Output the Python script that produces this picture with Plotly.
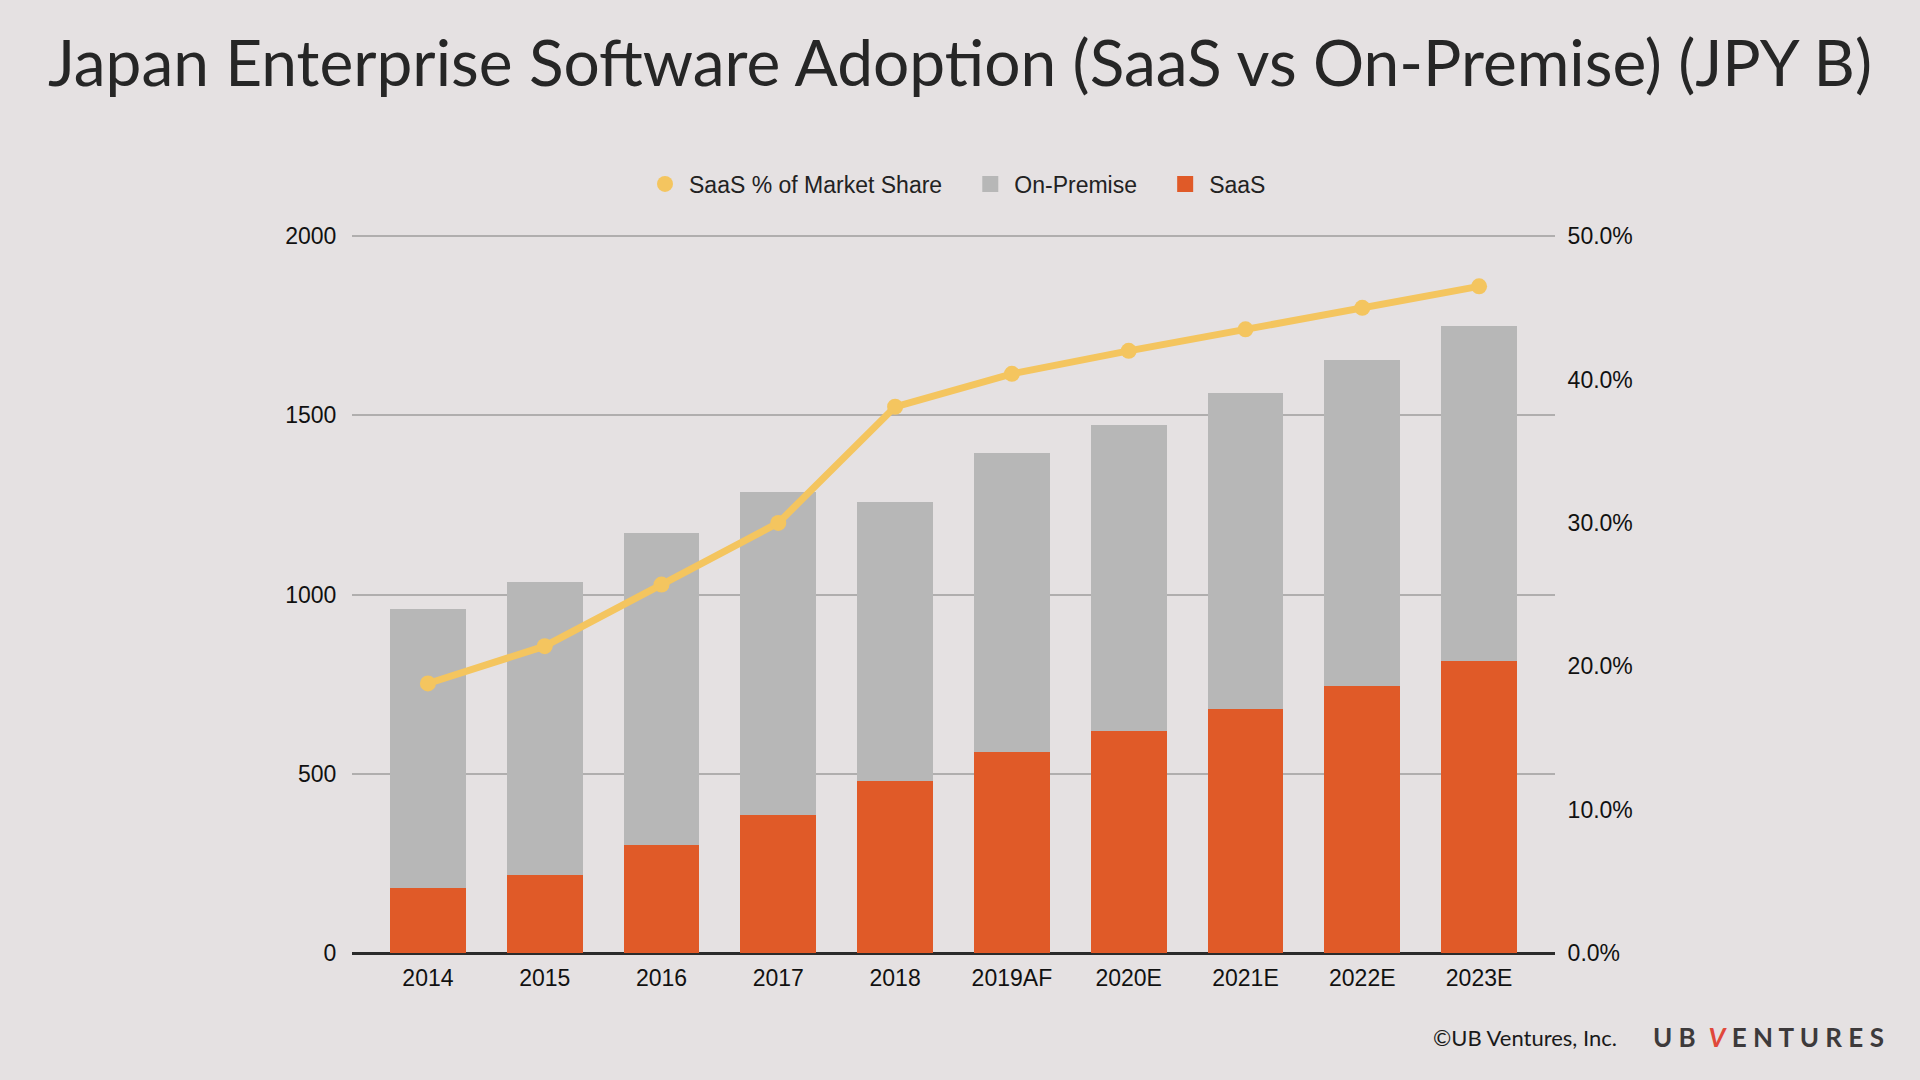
import plotly.graph_objects as go

categories = ["2014", "2015", "2016", "2017", "2018", "2019AF", "2020E", "2021E", "2022E", "2023E"]
saas = [181, 219, 301, 386, 479, 561, 619, 680, 745, 814]
on_premise = [779, 817, 872, 899, 779, 834, 855, 882, 910, 936]
saas_share = [18.8, 21.4, 25.7, 30.0, 38.1, 40.4, 42.0, 43.5, 45.0, 46.5]
left_ticks = [0, 500, 1000, 1500, 2000]
right_ticks = [0, 10, 20, 30, 40, 50]

BG = "#E5E1E2"
ORANGE = "#E05A28"
GRAY = "#B7B7B7"
YELLOW = "#F4C55F"
NB = "\u00a0"

fig = go.Figure()

fig.add_trace(go.Bar(x=categories, y=saas, name="SaaS", marker=dict(color=ORANGE, line_width=0),
                     showlegend=False, yaxis="y"))
fig.add_trace(go.Bar(x=categories, y=on_premise, name="On-Premise", marker=dict(color=GRAY, line_width=0),
                     showlegend=False, yaxis="y"))
fig.add_trace(go.Scatter(x=categories, y=saas_share, name="SaaS % of Market Share", mode="lines+markers",
                         line=dict(color=YELLOW, width=7), marker=dict(color=YELLOW, size=16),
                         showlegend=False, yaxis="y2"))

# legend entries (symbol-only, as in the reference)
fig.add_trace(go.Scatter(x=[None], y=[None], mode="markers", name="SaaS % of Market Share" + NB * 3,
                         marker=dict(color=YELLOW, size=22, symbol="circle")))
fig.add_trace(go.Scatter(x=[None], y=[None], mode="markers", name="On-Premise" + NB * 3,
                         marker=dict(color=GRAY, size=22, symbol="square")))
fig.add_trace(go.Scatter(x=[None], y=[None], mode="markers", name="SaaS",
                         marker=dict(color=ORANGE, size=22, symbol="square")))

tickfont = dict(family="Liberation Sans, Arial, sans-serif", size=23, color="#111111")

TOP = 2006
fig.update_layout(
    width=1920, height=1080,
    paper_bgcolor=BG, plot_bgcolor=BG,
    margin=dict(l=352, r=365, t=234, b=127, autoexpand=False),
    barmode="stack", bargap=0.35,
    title=dict(text="Japan Enterprise Software Adoption (SaaS vs On-Premise) (JPY B)",
               font=dict(family="Lato", size=64, color="#262626"),
               x=0.5, xanchor="center", xref="container",
               y=1 - 64 / 1080, yanchor="middle", yref="container"),
    legend=dict(orientation="h", x=0.5 - 4 / 1920, xanchor="center", xref="container",
                y=1 - 184 / 1080, yanchor="middle", yref="container",
                font=dict(family="Liberation Sans, Arial, sans-serif", size=23, color="#222"),
                bgcolor="rgba(0,0,0,0)", itemsizing="trace", itemwidth=38, traceorder="normal"),
    xaxis=dict(type="category", range=[-0.65, 9.65], showgrid=False,
               showline=True, linecolor="#2b2b2b", linewidth=2,
               ticks="outside", ticklen=3, tickcolor="rgba(0,0,0,0)",
               tickfont=tickfont, fixedrange=True),
    yaxis=dict(range=[0, TOP], tickvals=left_ticks, showgrid=True, gridcolor="#B0AEAE", gridwidth=1.5,
               zeroline=True, zerolinecolor="#2b2b2b", zerolinewidth=2,
               ticks="outside", ticklen=10, tickcolor="rgba(0,0,0,0)",
               tickfont=tickfont, showline=False),
    yaxis2=dict(range=[0, TOP / 40], tickvals=right_ticks,
                ticktext=[f"{v:.1f}%" for v in right_ticks],
                overlaying="y", side="right", showgrid=False, zeroline=False,
                ticks="outside", ticklen=7, tickcolor="rgba(0,0,0,0)",
                tickfont=tickfont, showline=False),
)

W, H = 1920, 1080
pl, pr, pt, pb = 352, 365, 234, 127
pw, ph = W - pl - pr, H - pt - pb

def px_to_paper(x, y):
    return (x - pl) / pw, 1 - (y - pt) / ph

ax1 = px_to_paper(1619, 1037)
ax2 = px_to_paper(1886, 1037)
fig.add_annotation(text="©UB Ventures, Inc.", x=ax1[0], y=ax1[1], xref="paper", yref="paper",
                   xanchor="right", yanchor="middle", showarrow=False,
                   font=dict(family="Lato", size=22, color="#1a1a1a"))
fig.add_annotation(text="U B\u2005 <span style='color:#E0483A'><i>V</i></span> E N T U R E S",
                   x=ax2[0], y=ax2[1], xref="paper", yref="paper",
                   xanchor="right", yanchor="middle", showarrow=False,
                   font=dict(family="Lato", size=26, color="#3d3a3b", weight=700))

fig.write_html("out.html")
